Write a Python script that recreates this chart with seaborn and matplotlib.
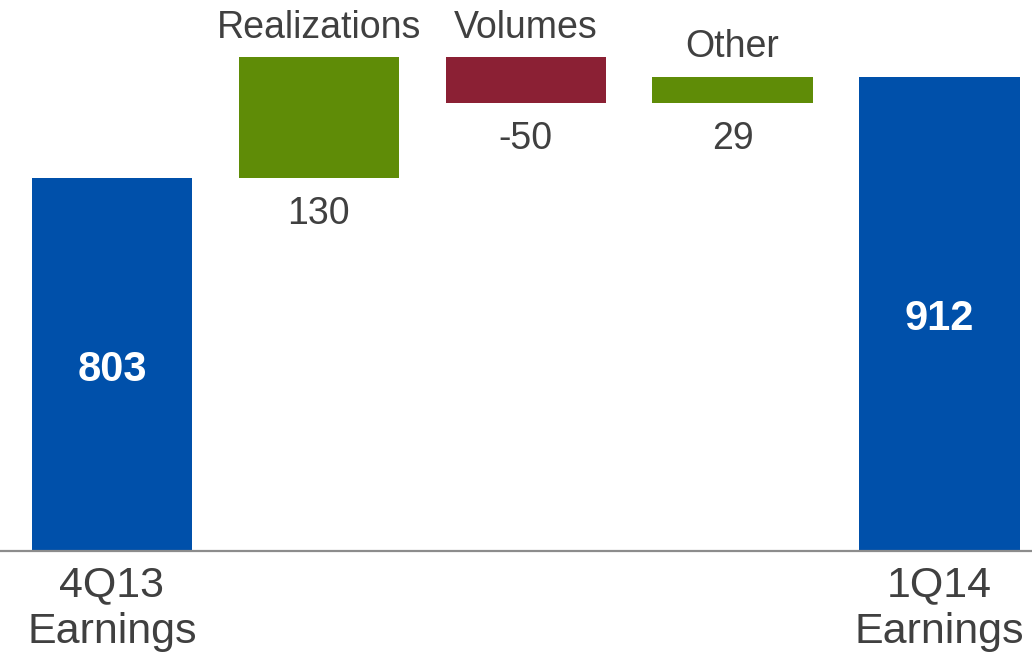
import matplotlib
matplotlib.use("Agg")
import matplotlib.pyplot as plt
import seaborn as sns
import numpy as np
import pandas as pd

# Earnings bridge: start, changes, end
categories = ["4Q13 Earnings", "Realizations", "Volumes", "Other", "1Q14 Earnings"]
values = [803, 130, -50, 29, 912]
kinds = ["total", "delta", "delta", "delta", "total"]
top_labels = ["", "Realizations", "Volumes", "Other", ""]
axis_labels = ["4Q13\nEarnings", "", "", "", "1Q14\nEarnings"]

BLUE = "#0050AA"
GREEN = "#5F8C07"
RED = "#8B2034"
TEXT = "#404040"

# floating segments of the waterfall
bottoms, heights, colors = [], [], []
running = 0
for v, k in zip(values, kinds):
    if k == "total":
        bottoms.append(0)
        heights.append(v)
        colors.append(BLUE)
        running = v
    else:
        lo = min(running, running + v)
        bottoms.append(lo)
        heights.append(abs(v))
        colors.append(GREEN if v >= 0 else RED)
        running += v

df = pd.DataFrame({"category": categories, "height": heights})

sns.set_theme(style="white")
plt.rcParams["font.family"] = ["Liberation Sans", "DejaVu Sans"]

fig = plt.figure(figsize=(10.32, 6.53), dpi=100)
ax = fig.add_axes([0, 102 / 653, 1, 551 / 653])

sns.barplot(data=df, x="category", y="height", order=categories,
            width=0.775, color=BLUE, ax=ax, errorbar=None)

for p, b, h, c in zip(ax.patches, bottoms, heights, colors):
    p.set_y(b)
    p.set_height(h)
    p.set_facecolor(c)
    p.set_edgecolor("none")

ax.set_ylim(400, 994.6)
ax.set_xlim(-0.541, 4.447)

for sp in ["top", "right", "left"]:
    ax.spines[sp].set_visible(False)
ax.spines["bottom"].set_color("#8C8C8C")
ax.spines["bottom"].set_linewidth(1.6)
ax.set_xticks([])
ax.set_yticks([])
ax.set_xlabel("")
ax.set_ylabel("")

for i, (v, k, b, h) in enumerate(zip(values, kinds, bottoms, heights)):
    if k == "total":
        ax.annotate(f"{v}", xy=(i, (400 + v) / 2), xytext=(0, -4),
                    textcoords="offset points", ha="center", va="center",
                    color="white", fontsize=30, fontweight="bold")
        ax.annotate(axis_labels[i], xy=(i, 400), xytext=(0, -10.5),
                    textcoords="offset points", ha="center", va="top",
                    fontsize=31, color=TEXT, linespacing=1.2,
                    annotation_clip=False)
    else:
        ax.annotate(top_labels[i], xy=(i, b + h), xytext=(0, 14),
                    textcoords="offset points", ha="center", va="baseline",
                    fontsize=27, color=TEXT)
        ax.annotate(f"{v}", xy=(i, b), xytext=(0, -13),
                    textcoords="offset points", ha="center", va="top",
                    fontsize=27, color=TEXT)

fig.savefig("out.png", dpi=100)
